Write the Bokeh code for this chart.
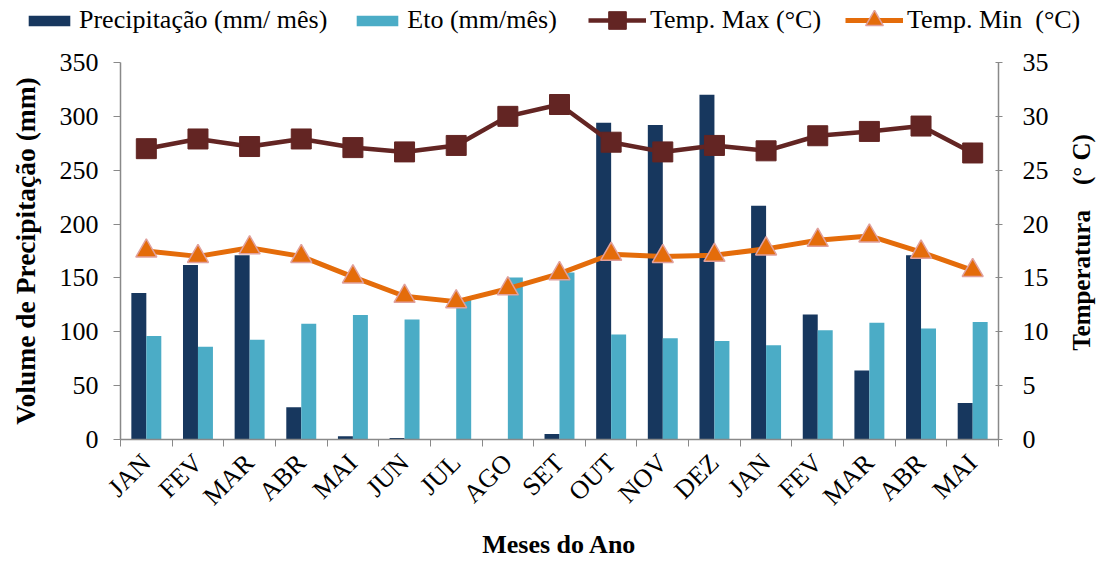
import math
from bokeh.plotting import figure
from bokeh.models import (Range1d, LinearAxis, FixedTicker, Legend, LegendItem,
                          ColumnDataSource, Label)
from bokeh.layouts import column, row
from bokeh.embed import file_html
from bokeh.resources import INLINE

months = ["JAN", "FEV", "MAR", "ABR", "MAI", "JUN", "JUL", "AGO", "SET",
          "OUT", "NOV", "DEZ", "JAN", "FEV", "MAR", "ABR", "MAI"]
precipitacao = [136, 162, 171, 30, 3, 1.5, 0, 0, 5, 294, 292, 320, 217, 116, 64, 171, 34]
eto = [96, 86, 92.5, 107.5, 115.5, 111.5, 130, 150.5, 155, 97.5, 94, 91.5, 87.5, 101.5, 108.5, 103, 109]
temp_max = [27.0, 27.9, 27.2, 27.9, 27.1, 26.7, 27.3, 30.0, 31.1, 27.6, 26.7, 27.3, 26.8, 28.2, 28.6, 29.1, 26.6]
temp_min = [17.5, 17.0, 17.8, 17.0, 15.1, 13.3, 12.8, 14.0, 15.4, 17.2, 17.0, 17.1, 17.7, 18.5, 18.9, 17.4, 15.7]

FONT = "Liberation Serif"
FS = "26px"
NAVY = "#17375E"
LIGHT = "#4BACC6"
DRED = "#632523"
ORANGE = "#E46C0A"
TRI_EDGE = "#E0A09C"
AXIS = "#898989"

W, H = 1099, 561
LEG_H = 48      # legend strip height
RW = 33         # right title strip width


def no_align(fig):
    try:
        fig.frame_align = False
    except Exception:
        pass


n = len(months)
xc = [i + 0.5 for i in range(n)]
src = ColumnDataSource(dict(
    x=xc,
    xp=[v - 0.145 for v in xc],
    xe=[v + 0.145 for v in xc],
    prec=precipitacao, eto=eto, tmax=temp_max, tmin=temp_min,
))

p = figure(width=W - RW, height=H - LEG_H, output_backend="svg", toolbar_location=None,
           x_range=Range1d(0, n), y_range=Range1d(0, 350),
           min_border_left=120, min_border_right=W - RW - 998, min_border_top=62 - LEG_H,
           min_border_bottom=121)
no_align(p)
p.outline_line_color = None
p.grid.visible = False
p.background_fill_color = "white"
p.border_fill_color = "white"

p.extra_y_ranges = {"temp": Range1d(0, 35)}

p.vbar(x="xp", top="prec", width=0.29, source=src, fill_color=NAVY, line_color=None)
p.vbar(x="xe", top="eto", width=0.29, source=src, fill_color=LIGHT, line_color=None)
p.line(x="x", y="tmax", source=src, line_color=DRED, line_width=4.5, y_range_name="temp")
p.scatter(x="x", y="tmax", source=src, marker="square", size=20, fill_color=DRED,
          line_color=DRED, y_range_name="temp")
p.line(x="x", y="tmin", source=src, line_color=ORANGE, line_width=5, y_range_name="temp")
p.scatter(x="x", y="tmin", source=src, marker="triangle", size=21, fill_color=ORANGE,
          line_color=TRI_EDGE, line_width=1.5, y_range_name="temp")

# axes
xa = p.xaxis[0]
xa.ticker = FixedTicker(ticks=xc, minor_ticks=list(range(n + 1)))
xa.major_label_overrides = {v: m for v, m in zip(xc, months)}
xa.major_label_orientation = math.pi / 4
xa.major_tick_out = 0
xa.major_tick_in = 0
xa.minor_tick_out = 7
xa.minor_tick_in = 0
xa.minor_tick_line_color = AXIS
xa.axis_line_color = AXIS
xa.axis_line_width = 1.5
xa.major_label_text_font = FONT
xa.major_label_text_font_size = FS
xa.major_label_text_color = "black"
xa.major_label_standoff = 12
xa.axis_label = "Meses do Ano"
xa.axis_label_text_font = FONT
xa.axis_label_text_font_style = "bold"
xa.axis_label_text_font_size = FS
xa.axis_label_text_color = "black"
xa.axis_label_standoff = 6

ya = p.yaxis[0]
ya.ticker = FixedTicker(ticks=list(range(0, 351, 50)))
ya.axis_line_color = AXIS
ya.axis_line_width = 1.5
ya.major_tick_line_color = AXIS
ya.major_tick_out = 7
ya.major_tick_in = 0
ya.minor_tick_line_color = None
ya.major_label_text_font = FONT
ya.major_label_text_font_size = FS
ya.major_label_text_color = "black"
ya.major_label_standoff = 15
ya.axis_label = "Volume de Precipitação (mm)"
ya.axis_label_text_font = FONT
ya.axis_label_text_font_style = "bold"
ya.axis_label_text_font_size = "27.5px"
ya.axis_label_text_color = "black"
ya.axis_label_standoff = 16

ra = LinearAxis(y_range_name="temp", ticker=FixedTicker(ticks=list(range(0, 36, 5))))
ra.axis_line_color = AXIS
ra.axis_line_width = 1.5
ra.major_tick_line_color = AXIS
ra.major_tick_out = 4
ra.major_tick_in = 3
ra.minor_tick_line_color = None
ra.major_label_text_font = FONT
ra.major_label_text_font_size = FS
ra.major_label_text_color = "black"
ra.major_label_standoff = 20
p.add_layout(ra, "right")

# ---- right title strip ----
rf = figure(width=RW, height=H - LEG_H, output_backend="svg", toolbar_location=None,
            x_range=Range1d(0, 1), y_range=Range1d(0, 1),
            min_border_left=0, min_border_right=0, min_border_top=0, min_border_bottom=0)
no_align(rf)
rf.axis.visible = False
rf.grid.visible = False
rf.outline_line_color = None
rf.background_fill_color = "white"
rf.border_fill_color = "white"
right_title = "Temperatura " + "\u00a0" * 3 + "(° C)"
rf.add_layout(Label(x=0.45, y=(H - LEG_H) - (242 - LEG_H), x_units="data", y_units="screen",
                    text=right_title, angle=math.pi / 2,
                    text_align="center", text_baseline="middle",
                    text_font=FONT, text_font_style="bold", text_font_size="25px",
                    text_color="black"))

# ---- legend strip (separate figure so nothing is clipped) ----
lf = figure(width=W, height=LEG_H, output_backend="svg", toolbar_location=None,
            x_range=Range1d(0, 1), y_range=Range1d(0, 1),
            min_border_left=0, min_border_right=0, min_border_top=0, min_border_bottom=0)
no_align(lf)
lf.axis.visible = False
lf.grid.visible = False
lf.outline_line_color = None
lf.background_fill_color = "white"
lf.border_fill_color = "white"

# legend proxies placed outside the visible range of the strip
proxy = ColumnDataSource(dict(x=[-5, -4], y=[-5, -4]))
g_prec = lf.vbar(x="x", top="y", width=0.1, source=proxy, fill_color=NAVY, line_color=None)
g_eto = lf.vbar(x="x", top="y", width=0.1, source=proxy, fill_color=LIGHT, line_color=None)
g_tmax_l = lf.line(x="x", y="y", source=proxy, line_color=DRED, line_width=4.5)
g_tmax_m = lf.scatter(x="x", y="y", source=proxy, marker="square", fill_color=DRED, line_color=DRED)
g_tmin_l = lf.line(x="x", y="y", source=proxy, line_color=ORANGE, line_width=5)
g_tmin_m = lf.scatter(x="x", y="y", source=proxy, marker="triangle", fill_color=ORANGE,
                      line_color=TRI_EDGE, line_width=1.5)


def style(lg):
    lg.label_text_font = FONT
    lg.label_text_font_size = FS
    lg.label_text_color = "black"
    lg.glyph_width = 52
    lg.label_standoff = 4
    lg.spacing = 24
    lg.padding = 0
    lg.margin = 0
    lg.border_line_color = None
    lg.background_fill_alpha = 0


legend_bars = Legend(items=[
    LegendItem(label="Precipitação (mm/ mês)", renderers=[g_prec]),
    LegendItem(label="Eto (mm/mês)", renderers=[g_eto]),
], orientation="horizontal", location=(23, 13))
style(legend_bars)
legend_bars.glyph_height = 13
lf.add_layout(legend_bars, "center")

legend_lines = Legend(items=[
    LegendItem(label="Temp. Max (°C)", renderers=[g_tmax_l, g_tmax_m]),
    LegendItem(label="Temp. Min  (°C)", renderers=[g_tmin_l, g_tmin_m]),
], orientation="horizontal", location=(588, 6))
style(legend_lines)
legend_lines.glyph_width = 58
legend_lines.glyph_height = 44
lf.add_layout(legend_lines, "center")

layout = column(lf, row(p, rf, spacing=0), spacing=0)
open("out.html", "w").write(file_html(layout, INLINE))
